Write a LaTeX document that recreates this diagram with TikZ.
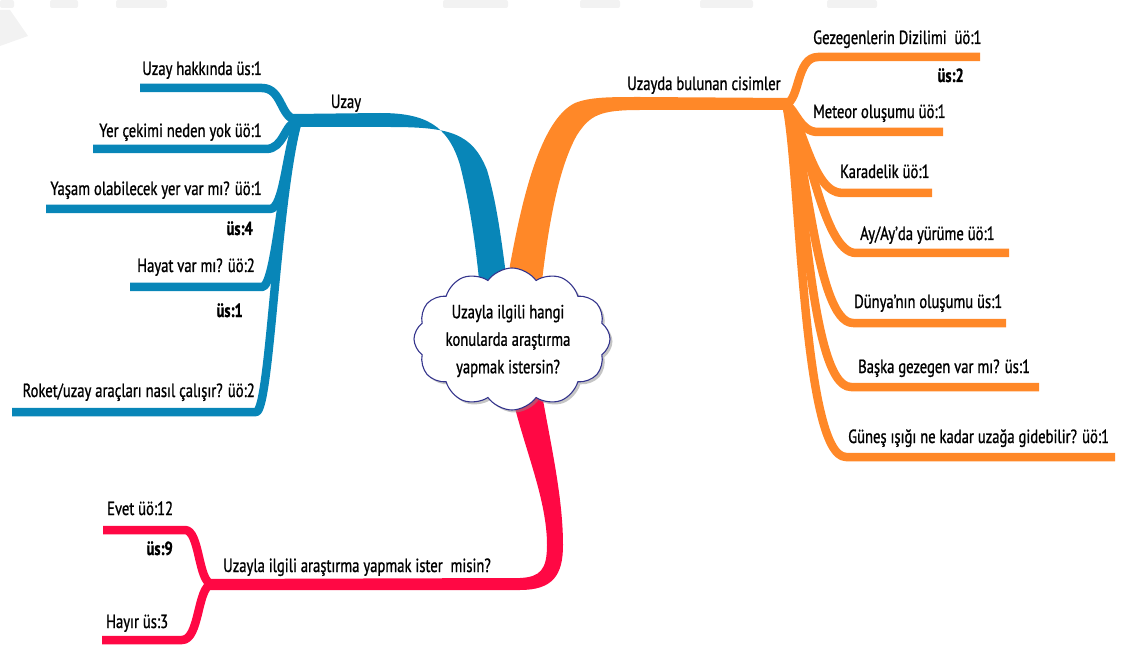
\documentclass[tikz,border=0pt]{standalone}
\usepackage{fontspec}
\setmainfont{PT Sans}[FakeStretch=0.77, FakeBold=1]
\usetikzlibrary{shapes.symbols,shadows}

\definecolor{skyblue}{RGB}{8,134,184}
\definecolor{tangerine}{RGB}{255,136,40}
\definecolor{crimson}{RGB}{255,8,68}
\definecolor{cloudrim}{RGB}{52,52,140}

\tikzset{
  lbl/.style={font=\fontsize{19}{22}\selectfont, inner sep=0pt, text=black},
  num/.style={lbl, font=\fontsize{19}{22}\selectfont\bfseries},
  twig/.style={line width=8.5pt, line cap=butt, line join=round},
  haze/.style={fill=black!5, draw=none}
}

\begin{document}
\begin{tikzpicture}[x=1pt,y=-1pt]
\useasboundingbox (0,0) rectangle (1125,647);

% faint page edge along the top
\fill[haze] (0,10) -- (10,10) -- (28,36) -- (0,46) -- cycle;
\foreach \a/\b in {0/14, 50/78, 116/167, 443/508, 580/620, 700/753, 827/877}
  \fill[haze, rounded corners=2pt] (\a,0) rectangle (\b,8);

% ---------------- junction points ----------------
\coordinate (bj) at (298,120);
\coordinate (oj) at (786,104);
\coordinate (rj) at (212,584);

% ---------------- blue branch: Uzay ----------------
\draw[twig, skyblue] (140,88)  -- (262,88)  .. controls (283,88)  and (280,120) .. (bj);
\draw[twig, skyblue] (93,149)  -- (266,149) .. controls (284,149) and (284,124) .. (bj);
\draw[twig, skyblue] (46,209)  -- (270,209) .. controls (284,209) and (286,150) .. (bj);
\draw[twig, skyblue] (130,287) -- (262,287) .. controls (276,287) and (282,170) .. (bj);
\draw[twig, skyblue] (12,412)  -- (256,412) .. controls (270,412) and (276,200) .. (bj);

\fill[skyblue] (292,114) -- (380,113) .. controls (425,113) and (448,125) .. (460,165)
  .. controls (470,205) and (476,245) .. (481,300) -- (509,300)
  .. controls (502,240) and (496,200) .. (487,170)
  .. controls (472,133) and (450,127) .. (390,127) -- (292,127) -- cycle;

% ---------------- orange branch: Uzayda bulunan cisimler ----------------
\draw[twig, tangerine] (oj) .. controls (800,100) and (796,57) .. (818,57) -- (980,57);
\draw[twig, tangerine] (oj) .. controls (796,110) and (800,132) .. (818,132) -- (943,132);
\draw[twig, tangerine] (oj) .. controls (802,118) and (812,193) .. (842,193) -- (932,193);
\draw[twig, tangerine] (oj) .. controls (808,130) and (822,253) .. (856,253) -- (1009,253);
\draw[twig, tangerine] (oj) .. controls (806,140) and (815,323) .. (853,323) -- (1006,323);
\draw[twig, tangerine] (oj) .. controls (804,150) and (808,387) .. (851,387) -- (1039,387);
\draw[twig, tangerine] (oj) .. controls (800,160) and (802,457) .. (846,457) -- (1115,457);

\fill[tangerine] (508,300) -- (510,265) .. controls (522,200) and (540,120) .. (575,103)
  .. controls (590,97) and (610,97) .. (640,97) -- (790,98) -- (790,110) -- (640,110)
  .. controls (600,110) and (590,115) .. (577,135)
  .. controls (560,165) and (548,220) .. (540,300) -- cycle;

% ---------------- red branch: Uzayla ilgili araştırma ----------------
\draw[twig, crimson] (103,530) -- (185,530) .. controls (200,530) and (198,583) .. (rj);
\draw[twig, crimson] (102,640) -- (182,640) .. controls (200,640) and (197,586) .. (rj);

\fill[crimson] (510,380) -- (513,400) .. controls (525,450) and (547,500) .. (547,545)
  .. controls (547,570) and (540,577) .. (520,578) -- (205,579) -- (205,590) -- (520,590)
  .. controls (553,590) and (563,575) .. (563,545)
  .. controls (563,500) and (552,450) .. (543,400) -- (540,380) -- cycle;

% ---------------- central cloud ----------------
\node[cloud, cloud puffs=12, cloud puff arc=110, aspect=1.35, draw=cloudrim,
      line width=1.1pt, fill=white, minimum width=196pt, minimum height=142pt,
      inner sep=0pt,
      drop shadow={shadow xshift=2.5pt, shadow yshift=-2.5pt, fill=black!45}]
  (hub) at (512,339) {};
\node[lbl, align=center, font=\fontsize{19}{27.5}\selectfont] (hubtext) at (508,341)
  {Uzayla ilgili hangi\\konularda araştırma\\yapmak istersin?};

% ---------------- labels: blue ----------------
\node[lbl, anchor=base]      (uzay) at (346,108) {Uzay};
\node[lbl, anchor=base east] (b1) at (262,75)  {Uzay hakkında üs:1};
\node[lbl, anchor=base east] (b2) at (262,137) {Yer çekimi neden yok üö:1};
\node[lbl, anchor=base east] (b3) at (262,195) {Yaşam olabilecek yer var mı? üö:1};
\node[num, anchor=base east] (b3n) at (253,235) {üs:4};
\node[lbl, anchor=base east] (b4) at (255,272) {Hayat var mı? üö:2};
\node[num, anchor=base east] (b4n) at (243,317) {üs:1};
\node[lbl, anchor=base east] (b5) at (255,397) {Roket/uzay araçları nasıl çalışır? üö:2};

% ---------------- labels: orange ----------------
\node[lbl, anchor=base west] (ouzay) at (627,90) {Uzayda bulunan cisimler};
\node[lbl, anchor=base west] (o1) at (813,44)  {Gezegenlerin Dizilimi\ \ üö:1};
\node[num, anchor=base east] (o1n) at (964,82) {üs:2};
\node[lbl, anchor=base west] (o2) at (813,118) {Meteor oluşumu üö:1};
\node[lbl, anchor=base west] (o3) at (840,178) {Karadelik üö:1};
\node[lbl, anchor=base west] (o4) at (860,240) {Ay/Ay'da yürüme üö:1};
\node[lbl, anchor=base west] (o5) at (854,308) {Dünya'nın oluşumu üs:1};
\node[lbl, anchor=base west] (o6) at (858,373) {Başka gezegen var mı? üs:1};
\node[lbl, anchor=base west] (o7) at (848,443) {Güneş ışığı ne kadar uzağa gidebilir? üö:1};

% ---------------- labels: red ----------------
\node[lbl, anchor=base west] (ruzay) at (223,572) {Uzayla ilgili araştırma yapmak ister\ \ misin?};
\node[lbl, anchor=base west] (r1) at (107,515) {Evet üö:12};
\node[num, anchor=base east] (r1n) at (173,555) {üs:9};
\node[lbl, anchor=base west] (r2) at (106,628) {Hayır üs:3};
\end{tikzpicture}
\end{document}
